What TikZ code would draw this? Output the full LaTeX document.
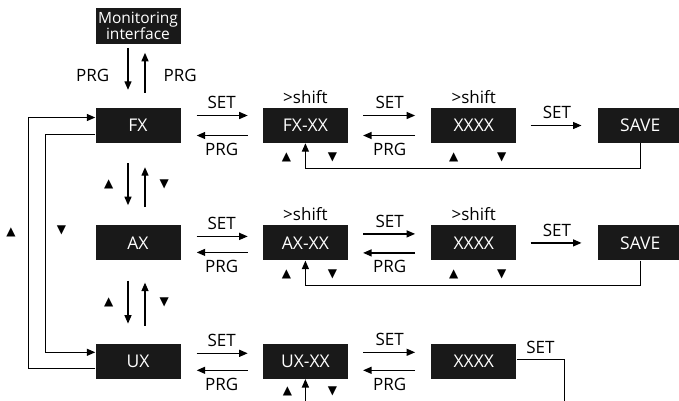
\documentclass[tikz,border=0pt]{standalone}
\usepackage{fontspec}
\setmainfont{Open Sans}
\newfontfamily\symfont{DejaVu Sans}
\usetikzlibrary{arrows.meta, positioning}

\begin{document}
\begin{tikzpicture}[
  font=\fontsize{17}{18}\selectfont,
  node distance=82pt,
  box/.style={fill=black!90, text=white, minimum width=85pt, minimum height=35pt, inner sep=0pt,
    font=\fontsize{17.5}{18}\selectfont},
  arr/.style={-{Triangle[length=8.5pt, width=7pt]}, line width=1.3pt},
  line/.style={line width=1.3pt},
  lbl/.style={inner sep=1pt},
  tri/.style={font=\symfont\fontsize{12}{12}\selectfont, inner sep=0pt},
]
\useasboundingbox (0,0) rectangle (679pt,-400pt);

% boxes
\node[box] (fx) at (138pt,-125.5pt) {FX};
\node[box, above=64pt of fx, minimum height=36pt, align=center, font=\fontsize{15.5}{16}\selectfont]
  (mon) {Monitoring\\interface};
\node[box, right=82pt of fx] (fxxx) {FX-XX};
\node[box, right=83pt of fxxx] (fxv) {XXXX};
\node[box, right=81pt of fxv] (fxsave) {SAVE};

\node[box, below=82pt of fx] (ax) {AX};
\node[box, right=82pt of ax] (axxx) {AX-XX};
\node[box, right=83pt of axxx] (axv) {XXXX};
\node[box, right=81pt of axv] (axsave) {SAVE};

\node[box, below=83pt of ax] (ux) {UX};
\node[box, right=82pt of ux] (uxxx) {UX-XX};
\node[box, right=83pt of uxxx] (uxv) {XXXX};

% shift hints
\node[inner sep=0pt, above=4pt of fxxx] (sh1) {>shift};
\node[inner sep=0pt, above=4pt of fxv] (sh2) {>shift};
\node[inner sep=0pt, above=4pt of axxx] (sh3) {>shift};
\node[inner sep=0pt, above=4pt of axv] (sh4) {>shift};

% monitoring <-> FX
\draw[arr, shorten <=4pt, shorten >=18pt] ([xshift=-10pt]mon.south) -- node[lbl, left=17pt] {PRG} ([xshift=-10pt]fx.north);
\draw[arr, shorten <=15pt, shorten >=9pt] ([xshift=7pt]fx.north) -- node[lbl, right=17pt] {PRG} ([xshift=7pt]mon.south);

% FX <-> AX <-> UX
\draw[arr, shorten <=20pt, shorten >=20pt] ([xshift=-10pt]fx.south) -- node[tri, left=14pt] (t1) {▲} ([xshift=-10pt]ax.north);
\draw[arr, shorten <=18pt, shorten >=24pt] ([xshift=7pt]ax.north) -- node[tri, right=14pt] (t2) {▼} ([xshift=7pt]fx.south);
\draw[arr, shorten <=20pt, shorten >=20pt] ([xshift=-10pt]ax.south) -- node[tri, left=14pt] (t3) {▲} ([xshift=-10pt]ux.north);
\draw[arr, shorten <=18pt, shorten >=22pt] ([xshift=7pt]ux.north) -- node[tri, right=14pt] (t4) {▼} ([xshift=7pt]ax.south);

% side loops
\draw[arr] ([yshift=-9pt]fx.west) -- ++(-50pt,0) |- node[tri, pos=0.22, right=11pt] (t5) {▼} ([yshift=9pt]ux.west);
\draw[arr] ([yshift=-7pt]ux.west) -- ++(-67pt,0) |- node[tri, pos=0.27, left=12pt] (t6) {▲} ([yshift=8pt]fx.west);

% row FX
\draw[arr, shorten <=16pt, shorten >=15pt] ([yshift=10pt]fx.east) -- node[lbl, above=5pt] {SET} ([yshift=10pt]fxxx.west);
\draw[arr, shorten <=15pt, shorten >=16pt] ([yshift=-10pt]fxxx.west) -- node[lbl, below=6pt] {PRG} ([yshift=-10pt]fx.east);
\draw[arr, shorten <=15pt, shorten >=16pt] ([yshift=10pt]fxxx.east) -- node[lbl, above=5pt] {SET} ([yshift=10pt]fxv.west);
\draw[arr, shorten <=16pt, shorten >=15pt] ([yshift=-10pt]fxv.west) -- node[lbl, below=6pt] {PRG} ([yshift=-10pt]fxxx.east);
\draw[arr, shorten <=14pt, shorten >=16pt] (fxv.east) -- node[lbl, above=5pt] {SET} (fxsave.west);
\draw[arr] (fxsave.south) -- ++(0,-25pt) -| (fxxx.south);
\node[tri] (t7) at ([shift={(-19pt,-14pt)}]fxxx.south) {▲};
\node[tri] (t8) at ([shift={(27pt,-14pt)}]fxxx.south) {▼};
\node[tri] (t9) at ([shift={(-20pt,-14pt)}]fxv.south) {▲};
\node[tri] (t10) at ([shift={(28pt,-14pt)}]fxv.south) {▼};

% row AX
\draw[arr, shorten <=16pt, shorten >=15pt] ([yshift=6.5pt]ax.east) -- node[lbl, above=5pt] {SET} ([yshift=6.5pt]axxx.west);
\draw[arr, shorten <=15pt, shorten >=16pt] ([yshift=-9.5pt]axxx.west) -- node[lbl, below=6pt] {PRG} ([yshift=-9.5pt]ax.east);
\draw[arr, shorten <=15pt, shorten >=16pt] ([yshift=9pt]axxx.east) -- node[lbl, above=5pt] {SET} ([yshift=9pt]axv.west);
\draw[arr, shorten <=16pt, shorten >=15pt] ([yshift=-10pt]axv.west) -- node[lbl, below=6pt] {PRG} ([yshift=-10pt]axxx.east);
\draw[arr, shorten <=14pt, shorten >=16pt] (axv.east) -- node[lbl, above=5pt] {SET} (axsave.west);
\draw[arr] (axsave.south) -- ++(0,-25pt) -| (axxx.south);
\node[tri] (t11) at ([shift={(-19pt,-14pt)}]axxx.south) {▲};
\node[tri] (t12) at ([shift={(27pt,-14pt)}]axxx.south) {▼};
\node[tri] (t13) at ([shift={(-20pt,-14pt)}]axv.south) {▲};
\node[tri] (t14) at ([shift={(28pt,-14pt)}]axv.south) {▼};

% row UX
\draw[arr, shorten <=16pt, shorten >=15pt] ([yshift=8pt]ux.east) -- node[lbl, above=5pt] {SET} ([yshift=8pt]uxxx.west);
\draw[arr, shorten <=15pt, shorten >=16pt] ([yshift=-9pt]uxxx.west) -- node[lbl, below=6pt] {PRG} ([yshift=-9pt]ux.east);
\draw[arr, shorten <=15pt, shorten >=16pt] ([yshift=9pt]uxxx.east) -- node[lbl, above=5pt] {SET} ([yshift=9pt]uxv.west);
\draw[arr, shorten <=16pt, shorten >=15pt] ([yshift=-9pt]uxv.west) -- node[lbl, below=6pt] {PRG} ([yshift=-9pt]uxxx.east);
\coordinate (uxin) at ([yshift=-24pt]uxxx.south);
\draw[arr] (uxin) -- (uxxx.south);
\coordinate (uxout) at ([shift={(48pt,-44pt)}]uxv.east);
\draw[line] ([yshift=2pt]uxv.east) -| node[lbl, pos=0.25, above=4pt] {SET} (uxout);
\node[tri] (t15) at ([shift={(-18pt,-12pt)}]uxxx.south) {▲};
\node[tri] (t16) at ([shift={(27pt,-12pt)}]uxxx.south) {▼};

\end{tikzpicture}
\end{document}
